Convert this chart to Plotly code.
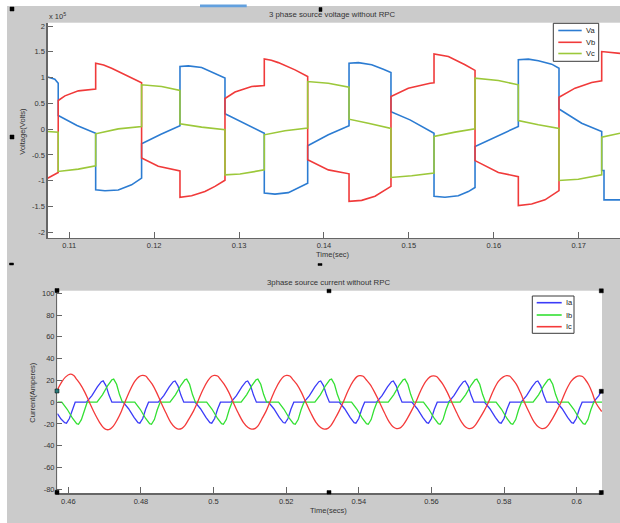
import plotly.graph_objects as go

# ---------------- DATA ----------------
# Top panel: source voltages, values in units of 1e5 V, time in s
va_t = [0.10745, 0.10830, 0.10870, 0.10870, 0.11091, 0.11311, 0.11311, 0.11420, 0.11577, 0.11734, 0.11852,
        0.11852, 0.12080, 0.12304, 0.12304, 0.12402, 0.12559, 0.12716, 0.12834, 0.12834, 0.13060, 0.13297,
        0.13297, 0.13423, 0.13580, 0.13698, 0.13808, 0.13808, 0.14051, 0.14295, 0.14295, 0.14405, 0.14562,
        0.14699, 0.14789, 0.14789, 0.15013, 0.15296, 0.15296, 0.15425, 0.15582, 0.15700, 0.15779, 0.15779,
        0.16034, 0.16289, 0.16289, 0.16407, 0.16525, 0.16682, 0.16768, 0.16768, 0.17035, 0.17271, 0.17271,
        0.17298, 0.17298, 0.17487]
va_v = [1.01, 0.97, 0.89, 0.265, 0.07, -0.078, -1.176, -1.195, -1.18, -1.08, -0.95,
        -0.284, -0.097, 0.065, 1.215, 1.227, 1.195, 1.085, 0.99, 0.297, 0.12, -0.078,
        -1.24, -1.26, -1.23, -1.14, -1.05, -0.32, -0.11, 0.065, 1.28, 1.29, 1.25,
        1.16, 1.10, 0.34, 0.18, -0.08, -1.30, -1.32, -1.29, -1.21, -1.13, -0.335,
        -0.14, 0.052, 1.345, 1.357, 1.325, 1.26, 1.18, 0.39, 0.116, -0.045, -0.80,
        -0.80, -1.37, -1.37]

vb_t = [0.10745, 0.10870, 0.10870, 0.10949, 0.11107, 0.11311, 0.11311, 0.11405, 0.11499, 0.11695, 0.11852,
        0.11852, 0.12048, 0.12304, 0.12304, 0.12441, 0.12598, 0.12716, 0.12834, 0.12834, 0.12952,
        0.13148, 0.13297, 0.13297, 0.13380, 0.13462, 0.13659, 0.13808, 0.13808, 0.14051, 0.14295, 0.14295,
        0.14444, 0.14601, 0.14789, 0.14789, 0.14993, 0.15249, 0.15296, 0.15296, 0.15380, 0.15465, 0.15661,
        0.15779, 0.15779, 0.16054, 0.16289, 0.16289, 0.16446, 0.16603, 0.16768, 0.16768, 0.16957,
        0.17153, 0.17271, 0.17271, 0.17487]
vb_v = [-0.95, -0.84, 0.556, 0.646, 0.743, 0.78, 1.28, 1.245, 1.18, 1.03, 0.90,
        -0.56, -0.72, -0.81, -1.32, -1.29, -1.21, -1.11, -0.99, 0.594, 0.72,
        0.827, 0.846, 1.363, 1.335, 1.29, 1.15, 1.02, -0.594, -0.79, -0.866, -1.40,
        -1.38, -1.30, -1.11, 0.633, 0.795, 0.89, 0.90, 1.46, 1.44, 1.41, 1.25,
        1.14, -0.61, -0.84, -0.92, -1.48, -1.45, -1.37, -1.19, 0.62, 0.795,
        0.904, 0.937, 1.505, 1.47]

vc_t = [0.10745, 0.10870, 0.10870, 0.11107, 0.11311, 0.11311, 0.11577, 0.11852, 0.11852, 0.12088,
        0.12304, 0.12304, 0.12559, 0.12834, 0.12834, 0.13011, 0.13297, 0.13297, 0.13541, 0.13808,
        0.13808, 0.14051, 0.14295, 0.14295, 0.14522, 0.14789, 0.14789, 0.15033, 0.15296, 0.15296,
        0.15543, 0.15779, 0.15779, 0.16054, 0.16289, 0.16289, 0.16525, 0.16768, 0.16768, 0.16996,
        0.17271, 0.17271, 0.17487]
vc_v = [-0.045, -0.058, -0.82, -0.775, -0.71, -0.09, 0.006, 0.05, 0.86, 0.826,
        0.75, 0.103, 0.04, -0.013, -0.885, -0.87, -0.79, -0.11, -0.03, 0.02,
        0.924, 0.89, 0.814, 0.194, 0.116, 0.013, -0.937, -0.904, -0.85, -0.142,
        -0.058, 0.006, 0.988, 0.943, 0.86, 0.168, 0.084, 0.013, -0.995, -0.97,
        -0.885, -0.155, -0.078]

# Bottom panel: source currents (A), time in s
ia_t = [0.4570, 0.4580, 0.4590, 0.4595, 0.4603, 0.4611, 0.4619,
        0.4650, 0.4665, 0.4680, 0.4691, 0.4696, 0.4704, 0.4712, 0.4720,
        0.4751, 0.4766, 0.4781, 0.4792, 0.4797, 0.4805, 0.4813, 0.4821,
        0.4848, 0.4863, 0.4878, 0.4889, 0.4894, 0.4902, 0.4910, 0.4918,
        0.4949, 0.4964, 0.4979, 0.4990, 0.4995, 0.5003, 0.5011, 0.5019,
        0.5048, 0.5063, 0.5078, 0.5089, 0.5094, 0.5102, 0.5110, 0.5118,
        0.5151, 0.5166, 0.5181, 0.5192, 0.5197, 0.5205, 0.5213, 0.5221,
        0.5249, 0.5264, 0.5279, 0.5290, 0.5295, 0.5303, 0.5311, 0.5319,
        0.5346, 0.5361, 0.5376, 0.5387, 0.5392, 0.5400, 0.5408, 0.5416,
        0.5449, 0.5464, 0.5479, 0.5490, 0.5495, 0.5503, 0.5511, 0.5519,
        0.5546, 0.5561, 0.5576, 0.5587, 0.5592, 0.5600, 0.5608, 0.5616,
        0.5647, 0.5662, 0.5677, 0.5688, 0.5693, 0.5701, 0.5709, 0.5717,
        0.5746, 0.5761, 0.5776, 0.5787, 0.5792, 0.5800, 0.5808, 0.5816,
        0.5847, 0.5862, 0.5877, 0.5888, 0.5893, 0.5901, 0.5909, 0.5917,
        0.5945, 0.5960, 0.5975, 0.5986, 0.5991, 0.5999, 0.6007, 0.6015,
        0.6046, 0.6061, 0.6070]
ia_v = [-10.5, -15.5, -18.8, -19.3, -15, -6.5, 0,
        0, 6, 14, 18.8, 19.6, 15, 6.5, 0,
        0, -6, -14, -18.8, -19.3, -15, -6.5, 0,
        0, 6, 14, 18.8, 19.5, 15, 6.5, 0,
        0, -6, -14, -18.8, -19.3, -15, -6.5, 0,
        0, 6, 14, 18.8, 19.5, 15, 6.5, 0,
        0, -6, -14, -18.7, -19.2, -15, -6.5, 0,
        0, 6, 14, 18.8, 19.5, 15, 6.5, 0,
        0, -6, -14, -18.8, -19.3, -15, -6.5, 0,
        0, 6, 14, 18.8, 19.5, 15, 6.5, 0,
        0, -6, -14, -18.8, -19.3, -15, -6.5, 0,
        0, 6, 14, 18.8, 19.5, 15, 6.5, 0,
        0, -6, -14, -18.8, -19.3, -15, -6.5, 0,
        0, 6, 14, 18.8, 19.5, 15, 6.5, 0,
        0, -6, -14, -18.8, -19.3, -15, -6.5, 0,
        0, 6, 11.5]

ib_t = [0.4570,
        0.4582, 0.4597, 0.4612, 0.4623, 0.4628, 0.4636, 0.4644, 0.4652,
        0.4679, 0.4694, 0.4709, 0.4720, 0.4725, 0.4733, 0.4741, 0.4749,
        0.4783, 0.4798, 0.4813, 0.4824, 0.4829, 0.4837, 0.4845, 0.4853,
        0.4880, 0.4895, 0.4910, 0.4921, 0.4926, 0.4934, 0.4942, 0.4950,
        0.4981, 0.4996, 0.5011, 0.5022, 0.5027, 0.5035, 0.5043, 0.5051,
        0.5076, 0.5091, 0.5106, 0.5117, 0.5122, 0.5130, 0.5138, 0.5146,
        0.5179, 0.5194, 0.5209, 0.5220, 0.5225, 0.5233, 0.5241, 0.5249,
        0.5279, 0.5294, 0.5309, 0.5320, 0.5325, 0.5333, 0.5341, 0.5349,
        0.5380, 0.5395, 0.5410, 0.5421, 0.5426, 0.5434, 0.5442, 0.5450,
        0.5481, 0.5496, 0.5511, 0.5522, 0.5527, 0.5535, 0.5543, 0.5551,
        0.5578, 0.5593, 0.5608, 0.5619, 0.5624, 0.5632, 0.5640, 0.5648,
        0.5679, 0.5694, 0.5709, 0.5720, 0.5725, 0.5733, 0.5741, 0.5749,
        0.5778, 0.5793, 0.5808, 0.5819, 0.5824, 0.5832, 0.5840, 0.5848,
        0.5880, 0.5895, 0.5910, 0.5921, 0.5926, 0.5934, 0.5942, 0.5950,
        0.5977, 0.5992, 0.6007, 0.6018, 0.6023, 0.6031, 0.6039, 0.6047,
        0.6070]
ib_v = [0,
        0, -6.5, -15, -19.8, -20.3, -16, -7, 0,
        0, 6.8, 15.5, 20.6, 21.2, 16.5, 7, 0,
        0, -6.5, -15, -19.8, -20.3, -16, -7, 0,
        0, 6.8, 15.5, 20.6, 21.2, 16.5, 7, 0,
        0, -6.5, -15, -19.8, -20.3, -16, -7, 0,
        0, 6.8, 15.5, 20.6, 21.2, 16.5, 7, 0,
        0, -6.5, -15, -19.8, -20.3, -16, -7, 0,
        0, 6.8, 15.5, 20.6, 21.2, 16.5, 7, 0,
        0, -6.5, -15, -19.8, -20.3, -16, -7, 0,
        0, 6.8, 15.5, 20.6, 21.2, 16.5, 7, 0,
        0, -6.5, -15, -19.8, -20.3, -16, -7, 0,
        0, 6.8, 15.5, 20.6, 21.2, 16.5, 7, 0,
        0, -6.5, -15, -19.8, -20.3, -16, -7, 0,
        0, 6.8, 15.5, 20.6, 21.2, 16.5, 7, 0,
        0, -6.5, -15, -19.8, -20.3, -16, -7, 0,
        0]

ic_t = [0.4570, 0.4580, 0.4592, 0.4605, 0.4615, 0.4622, 0.4632, 0.4645, 0.4658, 0.4672, 0.4686, 0.4697,
        0.4706, 0.4716, 0.4724, 0.4735, 0.4746, 0.4756,
        0.4770, 0.4784, 0.4795, 0.4804, 0.4813, 0.4821, 0.4831, 0.4843, 0.4855, 0.4869, 0.4882, 0.4894,
        0.4903, 0.4913, 0.4921, 0.4932, 0.4945, 0.4956,
        0.4970, 0.4984, 0.4994, 0.5002, 0.5011, 0.5019, 0.5029, 0.5042, 0.5054, 0.5068, 0.5082, 0.5095,
        0.5105, 0.5115, 0.5123, 0.5133, 0.5145, 0.5155,
        0.5169, 0.5183, 0.5193, 0.5201, 0.5210, 0.5218, 0.5229, 0.5242, 0.5254, 0.5268, 0.5282, 0.5295,
        0.5305, 0.5315, 0.5323, 0.5334, 0.5346, 0.5357,
        0.5371, 0.5385, 0.5395, 0.5403, 0.5412, 0.5420, 0.5431, 0.5444, 0.5457, 0.5471, 0.5484, 0.5495,
        0.5504, 0.5514, 0.5522, 0.5533, 0.5545, 0.5557,
        0.5571, 0.5585, 0.5596, 0.5605, 0.5614, 0.5622, 0.5632, 0.5644, 0.5656, 0.5670, 0.5683, 0.5694,
        0.5703, 0.5713, 0.5721, 0.5732, 0.5745, 0.5757,
        0.5771, 0.5785, 0.5798, 0.5807, 0.5816, 0.5824, 0.5834, 0.5845, 0.5856, 0.5870, 0.5883, 0.5895,
        0.5904, 0.5914, 0.5922, 0.5933, 0.5945, 0.5957,
        0.5971, 0.5985, 0.5998, 0.6007, 0.6016, 0.6024, 0.6033, 0.6043, 0.6052, 0.6069]
ic_v = [11.5, 17.5, 23, 25.7, 24.5, 21.5, 17, 9.5, 0, -10, -18.5, -23.5,
        -25.3, -24.5, -22, -16, -8.5, 0,
        11, 19.5, 23.5, 24.6, 24, 21, 16.5, 9, 0, -10, -18.5, -23.3,
        -24.8, -24, -21.5, -15.5, -8, 0,
        11, 19.5, 23.5, 24.6, 24, 21, 16.5, 9, 0, -10, -18.5, -23.3,
        -24.8, -24, -21.5, -15.5, -8, 0,
        11, 19.5, 23.5, 24.6, 24, 21, 16.5, 9, 0, -10, -18.5, -23.3,
        -24.8, -24, -21.5, -15.5, -8, 0,
        11, 19.5, 23.5, 24.4, 23.8, 20.8, 16.3, 8.8, 0, -10, -18.3, -22.8,
        -24.2, -23.6, -21, -15.3, -8, 0,
        11, 19.3, 23.2, 24.2, 23.6, 20.6, 16.2, 8.8, 0, -10, -18.3, -22.8,
        -24.2, -23.6, -21, -15.3, -8, 0,
        11, 19.3, 23.2, 24.4, 23.8, 20.8, 16.3, 8.8, 0, -10, -18.3, -22.8,
        -24.2, -23.6, -21, -15.3, -8, 0,
        11, 19.3, 23.2, 24.2, 23.6, 20.6, 16, 8.5, 0, -8.6]

# tick values / labels
v_tickvals = [2, 1.5, 1, 0.5, 0, -0.5, -1, -1.5, -2]
v_ticktext = ["2", "1.5", "1", "0.5", "0", "-0.5", "-1", "-1.5", "-2"]
tv_tickvals = [0.11, 0.12, 0.13, 0.14, 0.15, 0.16, 0.17]
tv_ticktext = ["0.11", "0.12", "0.13", "0.14", "0.15", "0.16", "0.17"]
i_tickvals = [100, 80, 60, 40, 20, 0, -20, -40, -60, -80]
i_ticktext = ["100", "80", "60", "40", "20", "0", "-20", "-40", "-60", "-80"]
ti_tickvals = [0.46, 0.48, 0.50, 0.52, 0.54, 0.56, 0.58, 0.60]
ti_ticktext = ["0.46", "0.48", "0.5", "0.52", "0.54", "0.56", "0.58", "0.6"]

v_names = ["Va", "Vb", "Vc"]
i_names = ["Ia", "Ib", "Ic"]

# ---------------- STYLE / LAYOUT ----------------
W, H = 620, 523
def px(x):
    return x / W
def py(y):
    return 1 - y / H

C_V = ["#2c7cd2", "#f03a3a", "#9cc83a"]
C_I = ["#3c3cf8", "#33e033", "#f43a3a"]
FONT = "Liberation Sans, Arial, Helvetica, sans-serif"
TXT = "#333333"
GRAY_BG = "#cbcbcb"
AX = "#666666"

fig = go.Figure()
for t, v, name, c in zip([va_t, vb_t, vc_t], [va_v, vb_v, vc_v], v_names, C_V):
    fig.add_trace(go.Scatter(x=t, y=v, mode="lines", name=name, showlegend=False,
                             line=dict(color=c, width=1.6), xaxis="x", yaxis="y", hoverinfo="skip"))
for t, v, name, c, shp in zip([ia_t, ib_t, ic_t], [ia_v, ib_v, ic_v], i_names, C_I,
                              ["linear", "linear", "spline"]):
    fig.add_trace(go.Scatter(x=t, y=v, mode="lines", name=name, showlegend=False,
                             line=dict(color=c, width=1.3, shape=shp), xaxis="x2", yaxis="y2",
                             hoverinfo="skip"))

common = dict(showline=True, linecolor=AX, linewidth=1.3, ticks="inside", tickcolor=AX,
              tickwidth=1, showgrid=False, zeroline=False, fixedrange=True, automargin=False,
              tickfont=dict(family=FONT, size=7.5, color=TXT))

fig.update_layout(
    template="none",
    width=W, height=H, autosize=False,
    margin=dict(l=0, r=0, t=0, b=0, pad=0),
    paper_bgcolor=GRAY_BG, plot_bgcolor="white",
    showlegend=False, hovermode=False,
    xaxis=dict(domain=[px(47.7), 1.0], range=[0.10746, 0.174865], anchor="y",
               tickvals=tv_tickvals, ticktext=tv_ticktext, ticklen=6, **common),
    yaxis=dict(domain=[py(238.0), py(22.7)], range=[-2.11, 2.064], anchor="x",
               tickvals=v_tickvals, ticktext=v_ticktext, ticklen=5, **common),
    xaxis2=dict(domain=[px(57.3), px(602.0)], range=[0.45697, 0.60697], anchor="y2",
                tickvals=ti_tickvals, ticktext=ti_ticktext, ticklen=6, **common),
    yaxis2=dict(domain=[py(493.3), py(290.7)], range=[-83.7, 102.4], anchor="x2",
                tickvals=i_tickvals, ticktext=i_ticktext, ticklen=5, **common),
)

shapes = []
annotations = []

def rect(x0, y0, x1, y1, fill, line=None, lw=0, layer="above"):
    shapes.append(dict(type="rect", xref="paper", yref="paper", x0=px(x0), x1=px(x1),
                       y0=py(y1), y1=py(y0), fillcolor=fill, layer=layer,
                       line=dict(color=line if line else fill, width=lw)))

def text(x, y, s, size=7.5, xanchor="center", angle=0, color=TXT):
    annotations.append(dict(xref="paper", yref="paper", x=px(x), y=py(y), text=s,
                            showarrow=False, xanchor=xanchor, yanchor="middle", textangle=angle,
                            font=dict(family=FONT, size=size, color=color), borderpad=0))

# white outer margins of the screenshot
rect(0, 0, W, 6, "white")
rect(0, 0, 7, H, "white")
rect(200, 4.6, 246.7, 7.2, "#62a0de")

# titles and axis labels
text(332, 14.5, "3 phase source voltage without RPC", size=7.8)
text(328.5, 282, "3phase source current without RPC", size=7.8)
text(333, 254.5, "Time(sec)")
text(328, 510, "Time(secs)")
text(21.7, 131, "Voltage(Volts)", angle=-90)
text(31.7, 392, "Current(Amperes)", angle=-90)
text(47.5, 16.5, "x 10<sup>5</sup>", xanchor="left")

# legends (drawn compactly, as in the reference)
def legend(x0, y0, x1, y1, rows, names, colors, lx0, lx1, tx):
    rect(x0, y0, x1, y1, "white", line="#3a3a3a", lw=1)
    for yy, n, c in zip(rows, names, colors):
        shapes.append(dict(type="line", xref="paper", yref="paper", x0=px(lx0), x1=px(lx1),
                           y0=py(yy), y1=py(yy), line=dict(color=c, width=1.6), layer="above"))
        text(tx, yy, n, xanchor="left", color="#222222")

legend(553.3, 23.3, 598.7, 61.3, [30.5, 42.3, 53.5], v_names, C_V, 558.3, 581.7, 585)
legend(532.3, 296, 574, 333.3, [302.7, 315, 326.7], i_names, C_I, 536.7, 561.7, 565)

# MATLAB edit-mode selection handles
for (cx, cy, w, h, col) in [(12, 9, 4, 4, "black"), (320.5, 9.5, 3, 4, "black"),
                            (12, 137, 4, 4, "black"), (11.5, 264, 4, 2, "black"),
                            (320, 264.5, 4, 2, "black"),
                            (57, 290.5, 4, 4, "black"), (329, 291, 4, 3.5, "black"),
                            (601.3, 290.8, 4, 4, "black"), (57, 391, 4, 4, "#2a7a7a"),
                            (601.3, 391.3, 4, 4, "black"), (57, 492.3, 4, 4, "black"),
                            (329, 492.3, 4, 3.5, "black"), (601.3, 492.5, 4, 4, "black")]:
    rect(cx - w / 2, cy - h / 2, cx + w / 2, cy + h / 2, col, line="black", lw=0.5)

fig.update_layout(shapes=shapes, annotations=annotations)
# the page's default 8px body margin would shift the whole picture; remove it
fig.write_html("out.html", config={"displayModeBar": False, "staticPlot": True},
               post_script="document.body.style.margin='0';document.body.style.overflow='hidden';")
